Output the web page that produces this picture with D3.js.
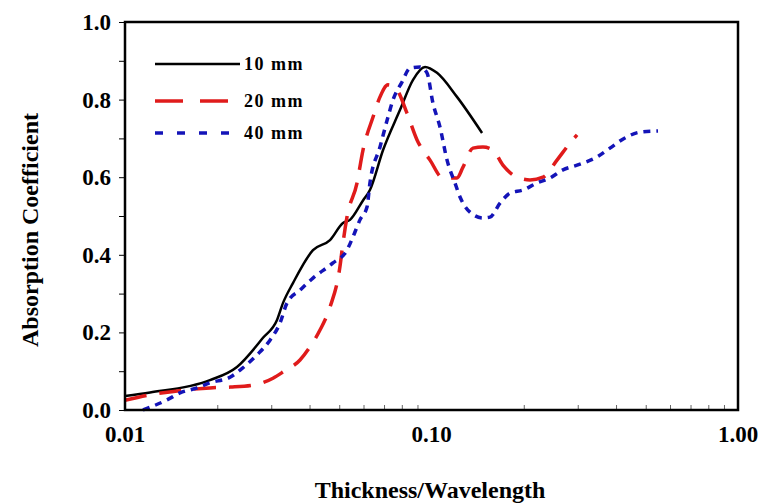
<!DOCTYPE html>
<html><head><meta charset="utf-8">
<script src="https://cdn.jsdelivr.net/npm/d3@7"></script>
<style>body{margin:0;background:#fff}svg{display:block}text{font-family:"Liberation Serif","Times New Roman",serif;font-weight:bold}</style>
</head><body><svg id="c" width="767" height="504"></svg>
<script>
const xTickLabels = ["0.01","0.10","1.00"];
const yTickLabels = ["0.0","0.2","0.4","0.6","0.8","1.0"];
const seriesNames = ["10 mm","20 mm","40 mm"];

const x10 = [0.01,0.01207,0.01893,0.02319,0.0282,0.03133,0.03278,0.03532,0.04105,0.04665,0.05142,0.0542,0.05977,0.06297,0.0695,0.07889,0.08704,0.09525,0.1042,0.1211,0.1462];
const y10 = [0.036,0.045,0.077,0.111,0.186,0.232,0.276,0.327,0.412,0.438,0.482,0.49,0.54,0.567,0.67,0.773,0.851,0.884,0.869,0.807,0.714];

const x20 = [0.01,0.01207,0.01593,0.01893,0.02208,0.02616,0.0304,0.03278,0.03724,0.04015,0.04327,0.04665,0.05026,0.05142,0.05299,0.05714,0.05977,0.06445,0.06792,0.07211,0.07711,0.08318,0.08971,0.0989,0.109,0.1211,0.1267,0.1365,0.1472,0.1587,0.171,0.1901,0.2096,0.2311,0.2567,0.2831,0.2985];
const y20 = [0.025,0.039,0.052,0.057,0.059,0.064,0.082,0.098,0.129,0.163,0.206,0.265,0.369,0.43,0.497,0.585,0.67,0.755,0.807,0.838,0.825,0.765,0.696,0.644,0.598,0.598,0.626,0.675,0.678,0.67,0.631,0.6,0.593,0.6,0.644,0.688,0.709];

const x40 = [0.01145,0.01371,0.01512,0.01718,0.01893,0.02208,0.02374,0.02696,0.02972,0.03204,0.03378,0.03724,0.04105,0.04771,0.05299,0.05543,0.05842,0.0616,0.06297,0.06792,0.07211,0.07487,0.08011,0.08511,0.09173,0.09666,0.1011,0.1066,0.1124,0.1193,0.1239,0.1335,0.1472,0.1552,0.1673,0.1804,0.1989,0.2208,0.2435,0.2685,0.2985,0.3467,0.3822,0.4276,0.4786,0.5483];
const y40 = [0.0,0.026,0.044,0.057,0.07,0.085,0.103,0.142,0.18,0.224,0.276,0.309,0.34,0.379,0.412,0.446,0.49,0.523,0.585,0.678,0.755,0.799,0.845,0.881,0.884,0.869,0.791,0.729,0.644,0.585,0.549,0.51,0.495,0.497,0.533,0.559,0.567,0.585,0.598,0.619,0.631,0.652,0.675,0.701,0.716,0.719];

const svg = d3.select("#c");
const L=125, R=738, T=22, B=410;
const x = d3.scaleLog().domain([0.01,1]).range([L,R]);
const y = d3.scaleLinear().domain([0,1]).range([B,T]);

const series = [
  {name:seriesNames[0], xs:x10, ys:y10, color:"#000000", w:2.5, dash:null},
  {name:seriesNames[1], xs:x20, ys:y20, color:"#e01b1b", w:3.5, dash:"22,13"},
  {name:seriesNames[2], xs:x40, ys:y40, color:"#1414b8", w:3.5, dash:"7,6"}
];

// y axis ticks (outward)
const yAx = d3.axisLeft(y).tickValues(d3.range(0,1.0001,0.1)).tickSize(6).tickFormat("");
const gy = svg.append("g").attr("transform",`translate(${L},0)`).call(yAx);
gy.select(".domain").remove();
gy.selectAll("line").attr("stroke","#000").attr("stroke-width",1);
yTickLabels.forEach(t=>{
  svg.append("text").attr("x",L-14).attr("y",y(+t)+8).attr("text-anchor","end")
    .attr("font-size",23).text(t);
});

// x axis minor ticks (inward)
const xt=[];
[0.01,0.1].forEach(d=>{for(let k=2;k<=9;k++) xt.push(d*k);});
const xAx = d3.axisTop(x).tickValues(xt).tickSize(5).tickFormat("");
const gx = svg.append("g").attr("transform",`translate(0,${B})`).call(xAx);
gx.select(".domain").remove();
gx.selectAll("line").attr("stroke","#666").attr("stroke-width",1);
xTickLabels.forEach(t=>{
  svg.append("text").attr("x",x(+t)).attr("y",B+32).attr("text-anchor","middle")
    .attr("font-size",23).text(t);
});

const line = d3.line().x(d=>x(d[0])).y(d=>y(d[1])).curve(d3.curveMonotoneX);
series.forEach(s=>{
  const pts = s.xs.map((v,i)=>[v,s.ys[i]]);
  svg.append("path").datum(pts).attr("d",line).attr("fill","none")
    .attr("stroke",s.color).attr("stroke-width",s.w)
    .attr("stroke-dasharray",s.dash).attr("stroke-linejoin","round");
});

// frame
svg.append("rect").attr("x",L).attr("y",T).attr("width",R-L).attr("height",B-T)
  .attr("fill","none").attr("stroke","#000").attr("stroke-width",2.5);

// legend
const legY=[64,101,133];
series.forEach((s,i)=>{
  svg.append("line").attr("x1",155).attr("x2",240).attr("y1",legY[i]).attr("y2",legY[i])
    .attr("stroke",s.color).attr("stroke-width",s.w).attr("stroke-dasharray",s.dash?(i==1?"28,17":"8,14"):null);
  svg.append("text").attr("x",244).attr("y",legY[i]+6).attr("font-size",18).attr("letter-spacing",1.5).text(s.name);
});

// axis titles
svg.append("text").attr("x",430).attr("y",498).attr("text-anchor","middle").attr("font-size",24).text("Thickness/Wavelength");
svg.append("text").attr("transform","translate(38,230) rotate(-90)").attr("text-anchor","middle").attr("font-size",24).text("Absorption Coefficient");
</script></body></html>
